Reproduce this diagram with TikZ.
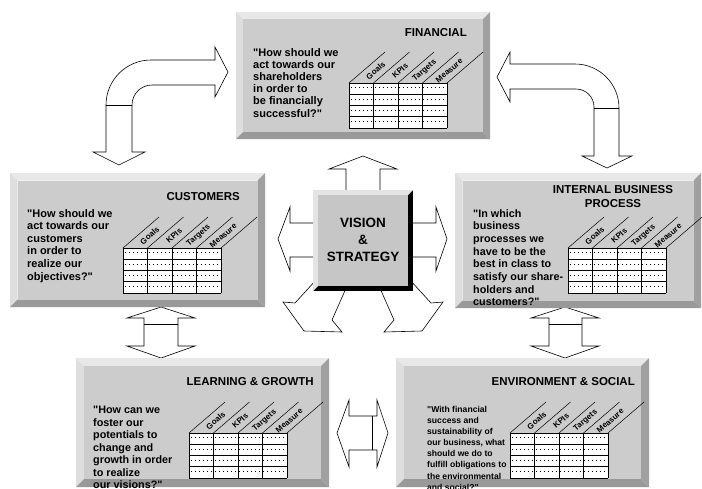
\documentclass[tikz,border=0pt]{standalone}
\usepackage{fontspec}
\setmainfont{Liberation Sans}[Ligatures=TeXOff]
\definecolor{face}{RGB}{204,204,204}
\definecolor{bevtop}{RGB}{232,232,232}
\definecolor{bevleft}{RGB}{222,222,222}
\definecolor{bevright}{RGB}{160,160,160}
\definecolor{bevbot}{RGB}{153,153,153}
\definecolor{visface}{RGB}{198,198,198}
\definecolor{vislight}{RGB}{228,228,228}
\tikzset{
  arrowshape/.style={draw=black, fill=white, line width=0.6pt, line join=miter},
  sepline/.style={draw=black, line width=0.6pt},
  qtext/.style={anchor=north west, align=left, inner sep=0pt, font=\bfseries\fontsize{11}{12.2}\selectfont},
  ttl/.style={anchor=east, inner sep=0pt, font=\bfseries\fontsize{11.5}{13.5}\selectfont},
  lbl/.style={inner sep=0pt, font=\bfseries\fontsize{8}{9}\selectfont, rotate=40.7},
  gridline/.style={line width=0.8pt},
  diagline/.style={line width=0.5pt},
  dotline/.style={line width=0.5pt, dash pattern=on 0.5pt off 3.5pt},
}
\newcommand\bevelbox[5]{%
  \fill[bevtop] (#1,#2) -- (#3,#2) -- (#3-#5,#2+#5) -- (#1+#5,#2+#5) -- cycle;
  \fill[bevleft] (#1,#2) -- (#1+#5,#2+#5) -- (#1+#5,#4-#5) -- (#1,#4) -- cycle;
  \fill[bevright] (#3,#2) -- (#3,#4) -- (#3-#5,#4-#5) -- (#3-#5,#2+#5) -- cycle;
  \fill[bevbot] (#1,#4) -- (#3,#4) -- (#3-#5,#4-#5) -- (#1+#5,#4-#5) -- cycle;
  \fill[face] (#1+#5,#2+#5) rectangle (#3-#5,#4-#5);
}
\newcommand\kpitable[3]{%
  \begin{scope}[shift={(#2,#3)}]
    \fill[white] (0,0) rectangle (98,45);
    \foreach \r in {0,1,2,3} {\draw[dotline] (2,\r*11.25+4.5) -- (97,\r*11.25+4.5);}
    \foreach \c in {0,...,4} {\draw[gridline] (\c*24.5,0) -- (\c*24.5,45);
      \draw[diagline] (\c*24.5,0) -- ++(36,-31);}
    \foreach \r in {0,...,4} {\draw[gridline] (0,\r*11.25) -- (98,\r*11.25);}
    \node[lbl] (#1-goals) at (12.25+14.4,-12.4) {Goals};
    \node[lbl] (#1-kpis) at (36.75+14.4,-12.4) {KPIs};
    \node[lbl] (#1-targets) at (61.25+14.4,-12.4) {Targets};
    \node[lbl] (#1-measure) at (85.75+14.4,-12.4) {Measure};
  \end{scope}}
\begin{document}
\begin{tikzpicture}[x=1pt,y=-1pt]
\useasboundingbox (0,0) rectangle (702,488);
\clip (0,0) rectangle (702,488);
\fill[white] (0,0) rectangle (702,488);

% ---------- curved arrows ----------
\draw[arrowshape] (228,72) -- (215,97) -- (215,85) -- (152,85)
  arc[start angle=270, end angle=180, radius=20] -- (132,152) -- (145,152)
  -- (119,165) -- (93,152) -- (106,152) -- (106,105)
  arc[start angle=180, end angle=270, radius=45] -- (215,60) -- (215,47) -- cycle;
\draw[sepline] (106,105) -- (132,105);

\draw[arrowshape] (497,77) -- (510,52) -- (510,64) -- (575,64)
  arc[start angle=270, end angle=360, radius=44] -- (619,156) -- (632,156)
  -- (607,168) -- (582,156) -- (594,156) -- (594,107)
  arc[start angle=0, end angle=-90, radius=18] -- (510,89) -- (510,102) -- cycle;
\draw[sepline] (594,108) -- (619,108);

% ---------- vertical double arrows ----------
\draw[arrowshape] (161,307) -- (195,318) -- (178,318) -- (178,346) -- (195,346)
  -- (161,358) -- (127,346) -- (144,346) -- (144,318) -- (127,318) -- cycle;
\draw[sepline] (144,324) -- (178,324);
\draw[arrowshape] (565,307) -- (599,318) -- (582,318) -- (582,346) -- (599,346)
  -- (565,358) -- (531,346) -- (549,346) -- (549,318) -- (531,318) -- cycle;
\draw[sepline] (549,324) -- (582,324);

% ---------- horizontal double arrow ----------
\draw[arrowshape] (337,433) -- (349,400) -- (349,416) -- (377,416) -- (377,400)
  -- (388,433) -- (377,467) -- (377,450) -- (349,450) -- (349,467) -- cycle;
\draw[sepline] (372,416) -- (372,450);

% ---------- vision arrows ----------
\draw[arrowshape] (346,195) -- (346,169) -- (329,169) -- (363,156) -- (397,169) -- (380,169) -- (380,195) -- cycle;
\draw[arrowshape] (318,223) -- (290,223) -- (290,207) -- (278,239) -- (290,271) -- (290,257) -- (318,257) -- cycle;
\draw[arrowshape] (408,223) -- (436,223) -- (436,207) -- (447,239) -- (436,271) -- (436,257) -- (408,257) -- cycle;
\draw[arrowshape] (316,280) -- (295,303) -- (283,302) -- (304,331) -- (342,332) -- (332,320) -- (347,286) -- cycle;
\draw[arrowshape] (410,280) -- (431,303) -- (443,302) -- (422,331) -- (384,332) -- (394,320) -- (379,286) -- cycle;

% ---------- vision box ----------
\fill[black] (313,190) rectangle (413,291);
\fill[vislight] (313,190) -- (413,190) -- (408,195) -- (318,195) -- (318,286) -- (313,291) -- cycle;
\fill[visface] (318,195) rectangle (408,286);
\node[align=center, inner sep=0pt, font=\bfseries\fontsize{13.5}{17}\selectfont] (vision) at (363,240) {VISION\\\&\\STRATEGY};

% ---------- boxes ----------
\bevelbox{236}{12}{490}{139}{7}
\bevelbox{10}{173}{265}{307}{7.5}
\bevelbox{455}{173}{701}{308}{7.5}
\bevelbox{76}{358}{329}{487}{8}
\bevelbox{396}{358}{649}{487}{8}

% ---------- tables ----------
\kpitable{fin}{349}{83}
\kpitable{cus}{123}{248}
\kpitable{ibp}{568}{248}
\kpitable{lng}{189}{433}
\kpitable{env}{510}{433}

% ---------- titles ----------
\node[ttl] (finT) at (467,33) {FINANCIAL};
\node[ttl] (cusT) at (240,197) {CUSTOMERS};
\node[anchor=north, align=center, inner sep=0pt, font=\bfseries\fontsize{11.5}{14}\selectfont] (ibpT) at (613,185) {INTERNAL BUSINESS\\PROCESS};
\node[ttl] (lngT) at (314,382) {LEARNING \& GROWTH};
\node[ttl] (envT) at (635,382) {ENVIRONMENT \& SOCIAL};

% ---------- questions ----------
\node[qtext] (finQ) at (253,48) {"How should we\\act towards our\\shareholders\\in order to\\be financially\\successful?"};
\node[qtext, font=\bfseries\fontsize{11}{12.6}\selectfont] (cusQ) at (27,209) {"How should we\\act towards our\\customers\\in order to\\realize our\\objectives?"};
\node[qtext, font=\bfseries\fontsize{10.8}{12.7}\selectfont] (ibpQ) at (473,209) {"In which\\business\\processes we\\have to be the\\best in class to\\satisfy our share-\\holders and\\customers?"};
\node[qtext, font=\bfseries\fontsize{10.8}{12.5}\selectfont] (lngQ) at (93,406) {"How can we\\foster our\\potentials to\\change and\\growth in order\\to realize\\our visions?"};
\node[qtext, font=\bfseries\fontsize{8.6}{11.1}\selectfont] (envQ) at (427,406) {"With financial\\success and\\sustainability of\\our business, what\\should we do to\\fulfill obligations to\\the environmental\\and social?"};
\end{tikzpicture}
\end{document}
